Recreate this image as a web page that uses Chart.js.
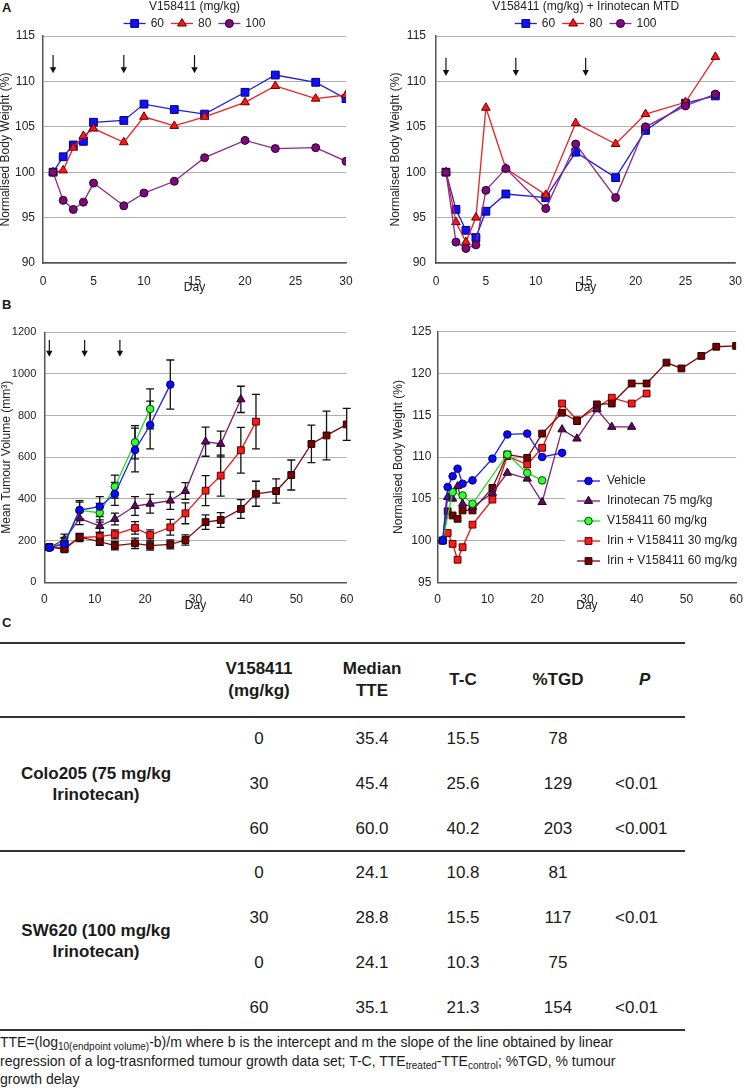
<!DOCTYPE html>
<html>
<head>
<meta charset="utf-8">
<title>V158411 body weight and tumour growth</title>
<script src="https://cdn.jsdelivr.net/npm/chart.js@4.4.1/dist/chart.umd.min.js"></script>
<style>
  body { margin: 0; background: #fff; }
  #page { position: relative; width: 745px; height: 1088px; font-family: "Liberation Sans", Arial, sans-serif; color: #1a1a1a; overflow: hidden; }
  canvas { position: absolute; }
  .panel { position: absolute; left: 2px; font-weight: bold; font-size: 13px; line-height: 13px; }
  .rule { position: absolute; left: 0; width: 685px; height: 2px; background: #333; }
  #tbl { position: absolute; left: 0; top: 643px; width: 685px; border-collapse: separate; border-spacing: 0; font-size: 17px; table-layout: fixed; }
  #tbl th, #tbl td { padding: 0; text-align: center; vertical-align: middle; white-space: nowrap; }
  #tbl th { height: 74px; line-height: 21.7px; font-weight: bold; }
  #tbl td.grp { font-weight: bold; line-height: 21px; }
  #tbl tr.c td { height: 44.67px; }
  #tbl tr.s td { height: 44.83px; }
  #tbl td.p { text-align: left; padding-left: 7px; }
  #note { position: absolute; left: 0; top: 1034px; font-size: 14px; line-height: 17.5px; white-space: nowrap; }
  .sub { font-size: 10px; position: relative; top: 3px; }
</style>
</head>
<body>
<div id="page">
  <div class="panel" style="top:1px">A</div>
  <div class="panel" style="top:298px">B</div>
  <div class="panel" style="top:616px">C</div>

  <canvas id="bwSingle" width="372" height="300" style="left:0;top:0"></canvas>
  <canvas id="bwCombo" width="373" height="300" style="left:372px;top:0"></canvas>
  <canvas id="tumour" width="372" height="315" style="left:0;top:300px"></canvas>
  <canvas id="bwColo" width="373" height="315" style="left:372px;top:300px"></canvas>

  <div class="rule" style="top:642px"></div>
  <div class="rule" style="top:716px"></div>
  <div class="rule" style="top:850px"></div>
  <div class="rule" style="top:1029px"></div>

  <table id="tbl">
    <colgroup><col style="width:192px"><col style="width:134px"><col style="width:92px"><col style="width:90px"><col style="width:100px"><col style="width:77px"></colgroup>
    <tr><th></th><th>V158411<br>(mg/kg)</th><th>Median<br>TTE</th><th>T-C</th><th>%TGD</th><th style="text-align:left;padding-left:31px"><i>P</i></th></tr>
    <tr class="c"><td class="grp" rowspan="3">Colo205 (75 mg/kg<br>Irinotecan)</td><td>0</td><td>35.4</td><td>15.5</td><td>78</td><td class="p"></td></tr>
    <tr class="c"><td>30</td><td>45.4</td><td>25.6</td><td>129</td><td class="p">&lt;0.01</td></tr>
    <tr class="c"><td>60</td><td>60.0</td><td>40.2</td><td>203</td><td class="p">&lt;0.001</td></tr>
    <tr class="s"><td class="grp" rowspan="4">SW620 (100 mg/kg<br>Irinotecan)</td><td>0</td><td>24.1</td><td>10.8</td><td>81</td><td class="p"></td></tr>
    <tr class="s"><td>30</td><td>28.8</td><td>15.5</td><td>117</td><td class="p">&lt;0.01</td></tr>
    <tr class="s"><td>0</td><td>24.1</td><td>10.3</td><td>75</td><td class="p"></td></tr>
    <tr class="s"><td>60</td><td>35.1</td><td>21.3</td><td>154</td><td class="p">&lt;0.01</td></tr>
  </table>

  <div id="note">TTE=(log<span class="sub">10(endpoint volume)</span>-b)/m where b is the intercept and m the slope of the line obtained by linear<br>regression of a log-trasnformed tumour growth data set; T-C, TTE<span class="sub">treated</span>-TTE<span class="sub">control</span>; %TGD, % tumour<br>growth delay</div>
</div>

<script>
// dosing days (arrows)
const doseDays = [1, 8, 15];

// A left: V158411 alone, normalised body weight (%)
const daysSingle = [1, 2, 3, 4, 5, 8, 10, 13, 16, 20, 23, 27, 30];
const single60 = [100, 101.7, 103.0, 103.4, 105.5, 105.7, 107.5, 106.9, 106.4, 108.8, 110.7, 109.9, 108.1];
const single80 = [100, 100.2, 102.7, 104.0, 104.8, 103.3, 106.1, 105.1, 106.1, 107.7, 109.5, 108.1, 108.5];
const single100 = [100, 96.9, 95.9, 96.7, 98.8, 96.3, 97.7, 99.0, 101.6, 103.5, 102.6, 102.7, 101.2];

// A right: V158411 + irinotecan MTD
const daysCombo = [1, 2, 3, 4, 5, 7, 11, 14, 18, 21, 25, 28];
const combo60 = [100, 95.9, 93.6, 92.8, 95.7, 97.6, 97.2, 102.2, 99.4, 104.6, 107.6, 108.4];
const combo80 = [100, 94.5, 92.3, 95.0, 107.1, 100.4, 97.5, 105.4, 103.1, 106.4, 107.7, 112.7];
const combo100 = [100, 92.3, 91.6, 92.0, 98.0, 100.4, 96.0, 103.1, 97.2, 105.0, 107.3, 108.6];

// B left: mean tumour volume (mm3) with error bars
const daysVeh = [1, 4, 7, 11, 14, 18, 21, 25];
const volVeh = [166, 184, 347, 363, 424, 635, 755, 949];
const errVeh = [8, 28, 45, 48, 55, 105, 115, 118];
const daysIri = [1, 4, 7, 11, 14, 18, 21, 25, 28, 32, 35, 39];
const volIri = [166, 206, 307, 270, 304, 366, 377, 392, 438, 675, 664, 878];
const errIri = [8, 25, 30, 30, 28, 45, 45, 42, 40, 70, 62, 63];
const daysV60 = [1, 4, 7, 11, 14, 18, 21];
const volV60 = [166, 190, 345, 334, 459, 672, 832];
const errV60 = [8, 25, 40, 45, 55, 80, 96];
const daysI30 = [1, 4, 7, 11, 14, 18, 21, 25, 28, 32, 35, 39, 42];
const volI30 = [168, 165, 215, 219, 230, 261, 227, 264, 331, 440, 512, 634, 771];
const errI30 = [8, 15, 20, 20, 22, 30, 25, 38, 50, 72, 98, 110, 131];
const daysI60 = [1, 4, 7, 11, 14, 18, 21, 25, 28, 32, 35, 39, 42, 46, 49, 53, 56, 60];
const volI60 = [170, 158, 217, 195, 176, 187, 176, 182, 203, 289, 299, 352, 425, 438, 515, 664, 705, 758];
const errI60 = [8, 12, 15, 18, 20, 25, 22, 22, 25, 35, 35, 45, 60, 58, 72, 90, 117, 77];

// B right: normalised body weight (%)
const daysBwVeh = [1, 2, 3, 4, 5, 7, 11, 14, 18, 21, 25];
const bwVeh = [100, 106.4, 107.7, 108.6, 106.8, 107.2, 109.8, 112.7, 112.8, 110.0, 110.5];
const daysBwIri = [1, 2, 3, 4, 5, 7, 11, 14, 18, 21, 25, 28, 32, 35, 39];
const bwIri = [100, 105.2, 105.0, 106.5, 104.4, 104.0, 105.7, 108.1, 107.4, 104.6, 113.3, 112.2, 115.7, 113.6, 113.6];
const daysBwV60 = [1, 3, 5, 7, 14, 18, 21];
const bwV60 = [100, 105.8, 105.4, 104.4, 110.3, 108.1, 107.2];
const daysBwI30 = [1, 2, 3, 4, 5, 7, 11, 14, 18, 21, 25, 28, 32, 35, 39, 42];
const bwI30 = [100, 100.9, 99.6, 97.7, 99.2, 101.9, 104.9, 110.1, 109.1, 111.1, 116.4, 114.4, 115.9, 117.1, 116.4, 117.6];
const daysBwI60 = [1, 2, 3, 4, 5, 7, 11, 14, 18, 21, 25, 28, 32, 35, 39, 42, 46, 49, 53, 56, 60];
const bwI60 = [100, 103.5, 103.0, 102.6, 103.6, 103.6, 106.3, 110.3, 109.9, 112.8, 115.3, 114.3, 116.3, 116.4, 118.8, 118.8, 121.3, 120.6, 122.1, 123.2, 123.3];

Chart.defaults.font.family = '"Liberation Sans", Arial, sans-serif';
Chart.defaults.font.size = 12;
Chart.defaults.color = '#222';
Chart.defaults.animation = false;

const FONT = '12px "Liberation Sans", Arial, sans-serif';

const blueSq = {line: '#1c1ce6', fill: '#1010ff', edge: '#000070', shape: 'rect', r: 5.5};
const redTri = {line: '#ee2020', fill: '#ff1414', edge: '#600000', shape: 'triangle', r: 5};
const purpCirc = {line: '#8a2a8a', fill: '#7d0a7d', edge: '#2a002a', shape: 'circle', r: 4};

function pts(days, vals) {
  return days.map((d, i) => ({x: d, y: vals[i]}));
}

function series(label, days, vals, s, order, errs) {
  return {
    label: label, data: pts(days, vals),
    borderColor: s.line, borderWidth: 1.3,
    pointBackgroundColor: s.fill, pointBorderColor: s.edge, pointBorderWidth: 1,
    pointStyle: s.shape, pointRadius: s.r, order: order, errors: errs
  };
}

function legendMark(ctx, ds, x, y, len) {
  ctx.strokeStyle = ds.borderColor;
  ctx.lineWidth = ds.borderWidth;
  ctx.beginPath(); ctx.moveTo(x, y); ctx.lineTo(x + len, y); ctx.stroke();
  ctx.fillStyle = ds.pointBackgroundColor;
  ctx.strokeStyle = ds.pointBorderColor;
  ctx.lineWidth = 1;
  Chart.helpers.drawPoint(ctx, {pointStyle: ds.pointStyle, radius: ds.pointRadius, borderWidth: 1, rotation: 0}, x + len / 2, y);
}

const lineLegend = {
  id: 'lineLegend',
  afterDraw(chart, args, opts) {
    if (!opts.mode) return;
    const ctx = chart.ctx, area = chart.chartArea;
    const sets = chart.data.datasets;
    ctx.save();
    ctx.font = FONT;
    ctx.textBaseline = 'middle';
    if (opts.title) {
      ctx.fillStyle = '#222';
      ctx.textAlign = 'center';
      ctx.fillText(opts.title, (area.left + area.right) / 2, opts.titleY);
    }
    ctx.textAlign = 'left';
    if (opts.mode === 'row') {
      const widths = sets.map(ds => ctx.measureText(ds.label).width);
      let total = 7 * (sets.length - 1);
      widths.forEach(w => { total += opts.lineLen + 5 + w; });
      let x = (area.left + area.right) / 2 - total / 2;
      sets.forEach((ds, i) => {
        legendMark(ctx, ds, x, opts.y, opts.lineLen);
        ctx.fillStyle = '#222';
        ctx.fillText(ds.label, x + opts.lineLen + 5, opts.y);
        x += opts.lineLen + 5 + widths[i] + 7;
      });
    } else {
      ctx.fillStyle = '#fff';
      ctx.fillRect(opts.box[0], opts.box[1], opts.box[2], opts.box[3]);
      sets.forEach((ds, i) => {
        const y = opts.y + i * opts.step;
        legendMark(ctx, ds, opts.x, y, opts.lineLen);
        ctx.fillStyle = '#222';
        ctx.fillText(ds.label, opts.x + opts.lineLen + 7, y);
      });
    }
    ctx.restore();
  }
};

const doseArrows = {
  id: 'doseArrows',
  afterDatasetsDraw(chart, args, opts) {
    if (!opts.days) return;
    const ctx = chart.ctx, xs = chart.scales.x, ys = chart.scales.y;
    ctx.save();
    ctx.strokeStyle = '#111';
    ctx.fillStyle = '#111';
    ctx.lineWidth = 1.2;
    opts.days.forEach(d => {
      const px = xs.getPixelForValue(d);
      const y0 = ys.getPixelForValue(opts.from), y1 = ys.getPixelForValue(opts.to);
      ctx.beginPath(); ctx.moveTo(px, y0); ctx.lineTo(px, y1 - 4); ctx.stroke();
      ctx.beginPath(); ctx.moveTo(px - 3.2, y1 - 6); ctx.lineTo(px + 3.2, y1 - 6); ctx.lineTo(px, y1); ctx.closePath(); ctx.fill();
    });
    ctx.restore();
  }
};

const errorBars = {
  id: 'errorBars',
  beforeDatasetsDraw(chart) {
    const ctx = chart.ctx, ys = chart.scales.y;
    ctx.save();
    ctx.strokeStyle = '#111';
    ctx.lineWidth = 1.3;
    chart.data.datasets.forEach((ds, i) => {
      if (!ds.errors) return;
      chart.getDatasetMeta(i).data.forEach((pt, j) => {
        const v = ds.data[j].y, e = ds.errors[j];
        const top = ys.getPixelForValue(v + e), bot = ys.getPixelForValue(v - e);
        ctx.beginPath();
        ctx.moveTo(pt.x, top); ctx.lineTo(pt.x, bot);
        ctx.moveTo(pt.x - 4, top); ctx.lineTo(pt.x + 4, top);
        ctx.moveTo(pt.x - 4, bot); ctx.lineTo(pt.x + 4, bot);
        ctx.stroke();
      });
    });
    ctx.restore();
  }
};

Chart.register(lineLegend, doseArrows, errorBars);

function scales(o) {
  return {
    x: {
      type: 'linear', min: 0, max: o.xMax,
      ticks: {stepSize: o.xStep, padding: o.xPad},
      grid: {display: false},
      border: {color: '#555', width: 1.5},
      title: {display: true, text: 'Day', padding: 0},
      afterFit: s => { s.height = o.xH; }
    },
    y: {
      min: o.yMin, max: o.yMax,
      ticks: {stepSize: o.yStep, padding: o.yPad, font: {size: o.yFont || 12}, callback: v => String(v)},
      grid: {color: '#b0b0b0', drawTicks: false},
      border: {color: '#555', width: 1.5},
      title: {display: true, text: o.yTitle, padding: 0, font: {lineHeight: 1}},
      afterFit: s => { s.width = o.yW; }
    }
  };
}

function makeChart(id, datasets, pad, sc, plugins) {
  return new Chart(document.getElementById(id), {
    type: 'line',
    data: {datasets: datasets},
    options: {
      responsive: false, events: [],
      layout: {padding: pad},
      scales: scales(sc),
      plugins: Object.assign({legend: {display: false}, tooltip: {enabled: false}}, plugins)
    }
  });
}

makeChart('bwSingle', [
  series('60', daysSingle, single60, blueSq, 3),
  series('80', daysSingle, single80, redTri, 2),
  series('100', daysSingle, single100, purpCirc, 1)
], {top: 36, left: 0, right: 26, bottom: 5.5},
{xMax: 30, xStep: 5, xPad: 3, xH: 31.5, yMin: 90, yMax: 115, yStep: 5, yPad: 8, yW: 43, yTitle: 'Normalised Body Weight (%)'},
{lineLegend: {mode: 'row', title: 'V158411 (mg/kg)', titleY: 7, y: 23.5, lineLen: 22},
 doseArrows: {days: doseDays, from: 112.9, to: 110.9}});

makeChart('bwCombo', [
  series('60', daysCombo, combo60, blueSq, 3),
  series('80', daysCombo, combo80, redTri, 2),
  series('100', daysCombo, combo100, purpCirc, 1)
], {top: 36, left: 18, right: 6.3, bottom: 5.5},
{xMax: 30, xStep: 5, xPad: 3, xH: 31.5, yMin: 90, yMax: 115, yStep: 5, yPad: 10, yW: 46, yTitle: 'Normalised Body Weight (%)'},
{lineLegend: {mode: 'row', title: 'V158411 (mg/kg) + Irinotecan MTD', titleY: 7, y: 23.5, lineLen: 22},
 doseArrows: {days: doseDays, from: 112.6, to: 110.6}});

const vehS = {line: '#1a1aff', fill: '#0a0aff', edge: '#000060', shape: 'circle', r: 3.8};
const iriS = {line: '#7a1f7a', fill: '#5c0a5c', edge: '#200020', shape: 'triangle', r: 4.8};
const v60S = {line: '#22dd22', fill: '#33ff33', edge: '#004400', shape: 'circle', r: 3.8};
const i30S = {line: '#ee1111', fill: '#ff1a1a', edge: '#550000', shape: 'rect', r: 4.8};
const i60S = {line: '#7a0a0a', fill: '#7a0000', edge: '#200000', shape: 'rect', r: 4.8};

makeChart('tumour', [
  series('Vehicle', daysVeh, volVeh, vehS, 1, errVeh),
  series('Irinotecan 75 mg/kg', daysIri, volIri, iriS, 3, errIri),
  series('V158411 60 mg/kg', daysV60, volV60, v60S, 2, errV60),
  series('Irin + V158411 30 mg/kg', daysI30, volI30, i30S, 5, errI30),
  series('Irin + V158411 60 mg/kg', daysI60, volI60, i60S, 4, errI60)
], {top: 32.3, left: 1, right: 25.3, bottom: 1.8},
{xMax: 60, xStep: 10, xPad: 2.2, xH: 30.9, yMin: 0, yMax: 1200, yStep: 200, yPad: 8, yW: 43.3, yFont: 11, yTitle: 'Mean Tumour Volume (mm³)'},
{doseArrows: {days: doseDays, from: 1163, to: 1083}});

makeChart('bwColo', [
  series('Vehicle', daysBwVeh, bwVeh, vehS, 1),
  series('Irinotecan 75 mg/kg', daysBwIri, bwIri, iriS, 3),
  series('V158411 60 mg/kg', daysBwV60, bwV60, v60S, 2),
  series('Irin + V158411 30 mg/kg', daysBwI30, bwI30, i30S, 5),
  series('Irin + V158411 60 mg/kg', daysBwI60, bwI60, i60S, 4)
], {top: 31.7, left: 20.7, right: 6.3, bottom: 1.8},
{xMax: 60, xStep: 10, xPad: 2.2, xH: 30.9, yMin: 95, yMax: 125, yStep: 5, yPad: 6.4, yW: 45, yTitle: 'Normalised Body Weight (%)'},
{lineLegend: {mode: 'column', x: 205, y: 181, step: 20, lineLen: 23, box: [193, 170, 180, 105]}});
</script>
</body>
</html>
